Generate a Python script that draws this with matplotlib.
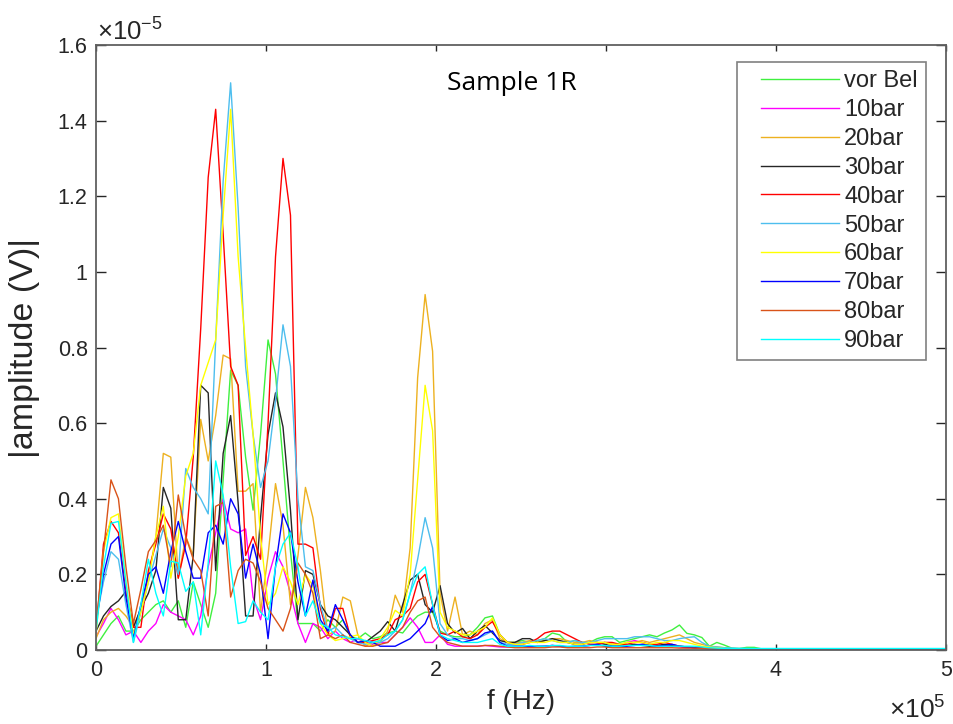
import numpy as np
import matplotlib
matplotlib.use("Agg")
import matplotlib.pyplot as plt
from matplotlib.legend_handler import HandlerLine2D

plt.rcParams['font.family'] = ['Liberation Sans', 'DejaVu Sans']
plt.rcParams['mathtext.fontset'] = 'custom'
plt.rcParams['mathtext.rm'] = 'Liberation Sans'
plt.rcParams['mathtext.it'] = 'Liberation Sans'

# frequency resolution of the spectra (Hz)
df_hz = 4400.0
n_points = 115

labels = ["vor Bel", "10bar", "20bar", "30bar", "40bar", "50bar", "60bar", "70bar", "80bar", "90bar"]
colors = ["#3ff03f", "#ff00ff", "#edb120", "#262626", "#ff0000", "#4dbeee", "#ffff00", "#0000ff", "#d95319", "#00ffff"]

# amplitudes in units of 1e-5 V
amp_vorbel = [0.01, 0.04, 0.07, 0.09, 0.05, 0.05, 0.08, 0.10, 0.12, 0.13,
              0.10, 0.13, 0.06, 0.18, 0.12, 0.06, 0.15, 0.45, 0.74, 0.70,
              0.51, 0.37, 0.57, 0.82, 0.73, 0.50, 0.26, 0.07, 0.07, 0.07,
              0.05, 0.08, 0.06, 0.08, 0.035, 0.03, 0.045, 0.03, 0.035, 0.045,
              0.05, 0.045, 0.07, 0.09, 0.10, 0.10, 0.05, 0.04, 0.035, 0.035,
              0.04, 0.06, 0.085, 0.09, 0.04, 0.02, 0.02, 0.025, 0.02, 0.025,
              0.03, 0.045, 0.04, 0.02, 0.025, 0.02, 0.02, 0.03, 0.035, 0.035,
              0.02, 0.025, 0.03, 0.035, 0.04, 0.035, 0.045, 0.053, 0.066, 0.044,
              0.04, 0.033, 0.01, 0.02, 0.013, 0.005, 0.004, 0.007, 0.007, 0.003,
              0.002, 0.002, 0.002, 0.001, 0.001, 0.001, 0.001, 0.001, 0.001, 0.001,
              0.001, 0.001, 0.001, 0.001, 0.001, 0.001, 0.001, 0.001, 0.001, 0.001,
              0.001, 0.001, 0.001, 0.001, 0.001]
amp_10bar = [0.035, 0.07, 0.11, 0.08, 0.04, 0.05, 0.02, 0.05, 0.07, 0.12,
             0.10, 0.09, 0.08, 0.04, 0.09, 0.22, 0.31, 0.40, 0.32, 0.31,
             0.32, 0.14, 0.08, 0.19, 0.26, 0.22, 0.15, 0.07, 0.02, 0.07,
             0.06, 0.03, 0.05, 0.03, 0.02, 0.03, 0.02, 0.015, 0.02, 0.02,
             0.04, 0.06, 0.085, 0.06, 0.02, 0.02, 0.04, 0.015, 0.01, 0.01,
             0.01, 0.01, 0.012, 0.01, 0.008, 0.008, 0.01, 0.01, 0.008, 0.008,
             0.01, 0.012, 0.01, 0.008, 0.008, 0.01, 0.012, 0.015, 0.02, 0.015,
             0.012, 0.02, 0.025, 0.02, 0.015, 0.01, 0.012, 0.01, 0.008, 0.006,
             0.006, 0.005, 0.004, 0.003, 0.003, 0.002, 0.002, 0.002, 0.001, 0.001,
             0.001, 0.001, 0.001, 0.001, 0.001, 0.001, 0.001, 0.001, 0.001, 0.001,
             0.001, 0.001, 0.001, 0.001, 0.001, 0.001, 0.001, 0.001, 0.001, 0.001,
             0.001, 0.001, 0.001, 0.001, 0.001]
amp_20bar = [0.03, 0.08, 0.10, 0.11, 0.09, 0.06, 0.11, 0.19, 0.30, 0.52,
             0.51, 0.19, 0.30, 0.25, 0.61, 0.50, 0.62, 0.78, 0.77, 0.42,
             0.42, 0.44, 0.10, 0.25, 0.44, 0.33, 0.12, 0.25, 0.43, 0.35,
             0.21, 0.04, 0.05, 0.14, 0.13, 0.04, 0.01, 0.02, 0.02, 0.05,
             0.145, 0.10, 0.27, 0.72, 0.94, 0.79, 0.15, 0.05, 0.14, 0.04,
             0.05, 0.04, 0.07, 0.08, 0.03, 0.02, 0.02, 0.02, 0.025, 0.02,
             0.025, 0.03, 0.03, 0.025, 0.02, 0.02, 0.025, 0.02, 0.02, 0.015,
             0.015, 0.02, 0.02, 0.025, 0.02, 0.025, 0.03, 0.035, 0.04, 0.03,
             0.02, 0.015, 0.01, 0.008, 0.006, 0.004, 0.003, 0.002, 0.002, 0.001,
             0.001, 0.001, 0.001, 0.001, 0.001, 0.001, 0.001, 0.001, 0.001, 0.001,
             0.001, 0.001, 0.001, 0.001, 0.001, 0.001, 0.001, 0.001, 0.001, 0.001,
             0.001, 0.001, 0.001, 0.001, 0.001]
amp_30bar = [0.05, 0.09, 0.115, 0.13, 0.155, 0.06, 0.11, 0.15, 0.21, 0.43,
             0.375, 0.08, 0.08, 0.25, 0.70, 0.68, 0.21, 0.52, 0.62, 0.39,
             0.09, 0.09, 0.35, 0.57, 0.68, 0.59, 0.37, 0.08, 0.21, 0.20,
             0.12, 0.09, 0.08, 0.06, 0.04, 0.02, 0.02, 0.035, 0.05, 0.075,
             0.05, 0.12, 0.185, 0.20, 0.12, 0.10, 0.17, 0.07, 0.045, 0.057,
             0.03, 0.05, 0.065, 0.045, 0.025, 0.02, 0.02, 0.03, 0.03, 0.02,
             0.025, 0.03, 0.025, 0.02, 0.015, 0.015, 0.02, 0.02, 0.015, 0.01,
             0.01, 0.012, 0.015, 0.012, 0.01, 0.012, 0.015, 0.012, 0.01, 0.008,
             0.006, 0.005, 0.004, 0.003, 0.002, 0.002, 0.002, 0.001, 0.001, 0.001,
             0.001, 0.001, 0.001, 0.001, 0.001, 0.001, 0.001, 0.001, 0.001, 0.001,
             0.001, 0.001, 0.001, 0.001, 0.001, 0.001, 0.001, 0.001, 0.001, 0.001,
             0.001, 0.001, 0.001, 0.001, 0.001]
amp_40bar = [0.05, 0.28, 0.34, 0.31, 0.16, 0.06, 0.06, 0.21, 0.28, 0.36,
             0.32, 0.19, 0.28, 0.51, 0.85, 1.25, 1.43, 1.10, 0.75, 0.70,
             0.25, 0.30, 0.24, 0.60, 1.04, 1.30, 1.15, 0.28, 0.28, 0.27,
             0.11, 0.04, 0.11, 0.11, 0.035, 0.02, 0.02, 0.025, 0.03, 0.04,
             0.08, 0.09, 0.11, 0.18, 0.20, 0.12, 0.045, 0.04, 0.05, 0.035,
             0.03, 0.04, 0.06, 0.075, 0.04, 0.02, 0.015, 0.015, 0.02, 0.03,
             0.045, 0.05, 0.05, 0.04, 0.03, 0.02, 0.015, 0.015, 0.02, 0.02,
             0.015, 0.015, 0.02, 0.02, 0.015, 0.015, 0.02, 0.015, 0.01, 0.008,
             0.006, 0.005, 0.004, 0.003, 0.002, 0.002, 0.002, 0.001, 0.001, 0.001,
             0.001, 0.001, 0.001, 0.001, 0.001, 0.001, 0.001, 0.001, 0.001, 0.001,
             0.001, 0.001, 0.001, 0.001, 0.001, 0.001, 0.001, 0.001, 0.001, 0.001,
             0.001, 0.001, 0.001, 0.001, 0.001]
amp_50bar = [0.08, 0.18, 0.26, 0.24, 0.12, 0.02, 0.10, 0.18, 0.25, 0.32,
             0.27, 0.20, 0.48, 0.43, 0.40, 0.36, 0.82, 1.24, 1.50, 1.17,
             0.75, 0.57, 0.43, 0.50, 0.66, 0.86, 0.75, 0.40, 0.22, 0.21,
             0.12, 0.05, 0.06, 0.04, 0.03, 0.02, 0.015, 0.02, 0.02, 0.03,
             0.05, 0.08, 0.15, 0.24, 0.35, 0.27, 0.07, 0.04, 0.03, 0.03,
             0.025, 0.03, 0.04, 0.05, 0.02, 0.015, 0.015, 0.02, 0.02, 0.025,
             0.03, 0.025, 0.02, 0.02, 0.025, 0.02, 0.02, 0.025, 0.03, 0.03,
             0.03, 0.03, 0.035, 0.035, 0.035, 0.03, 0.025, 0.025, 0.03, 0.033,
             0.035, 0.02, 0.01, 0.008, 0.006, 0.005, 0.004, 0.004, 0.003, 0.003,
             0.003, 0.003, 0.003, 0.003, 0.003, 0.003, 0.003, 0.003, 0.003, 0.003,
             0.003, 0.003, 0.003, 0.003, 0.003, 0.003, 0.003, 0.003, 0.003, 0.003,
             0.003, 0.003, 0.003, 0.003, 0.003]
amp_60bar = [0.04, 0.26, 0.35, 0.36, 0.18, 0.04, 0.10, 0.18, 0.30, 0.38,
             0.19, 0.30, 0.46, 0.52, 0.70, 0.76, 0.82, 1.15, 1.43, 1.04,
             0.80, 0.57, 0.30, 0.12, 0.15, 0.22, 0.18, 0.12, 0.20, 0.17,
             0.07, 0.04, 0.025, 0.03, 0.035, 0.04, 0.02, 0.01, 0.03, 0.06,
             0.105, 0.09, 0.20, 0.45, 0.70, 0.58, 0.10, 0.06, 0.05, 0.04,
             0.04, 0.05, 0.06, 0.085, 0.04, 0.02, 0.015, 0.015, 0.02, 0.02,
             0.02, 0.025, 0.02, 0.02, 0.015, 0.015, 0.02, 0.02, 0.02, 0.015,
             0.015, 0.02, 0.02, 0.02, 0.015, 0.02, 0.02, 0.025, 0.025, 0.02,
             0.015, 0.01, 0.008, 0.006, 0.004, 0.003, 0.002, 0.002, 0.001, 0.001,
             0.001, 0.001, 0.001, 0.001, 0.001, 0.001, 0.001, 0.001, 0.001, 0.001,
             0.001, 0.001, 0.001, 0.001, 0.001, 0.001, 0.001, 0.001, 0.001, 0.001,
             0.001, 0.001, 0.001, 0.001, 0.001]
amp_70bar = [0.07, 0.20, 0.28, 0.30, 0.14, 0.03, 0.12, 0.20, 0.22, 0.15,
             0.26, 0.34, 0.26, 0.19, 0.19, 0.31, 0.33, 0.28, 0.40, 0.36,
             0.19, 0.28, 0.20, 0.03, 0.22, 0.36, 0.31, 0.18, 0.09, 0.185,
             0.08, 0.05, 0.12, 0.08, 0.04, 0.02, 0.025, 0.02, 0.01, 0.01,
             0.01, 0.02, 0.03, 0.05, 0.07, 0.115, 0.04, 0.025, 0.03, 0.02,
             0.025, 0.03, 0.045, 0.05, 0.02, 0.01, 0.01, 0.01, 0.008, 0.01,
             0.01, 0.012, 0.01, 0.008, 0.01, 0.01, 0.012, 0.015, 0.01, 0.01,
             0.008, 0.01, 0.012, 0.015, 0.012, 0.01, 0.012, 0.015, 0.01, 0.008,
             0.006, 0.004, 0.003, 0.002, 0.002, 0.001, 0.001, 0.001, 0.001, 0.001,
             0.001, 0.001, 0.001, 0.001, 0.001, 0.001, 0.001, 0.001, 0.001, 0.001,
             0.001, 0.001, 0.001, 0.001, 0.001, 0.001, 0.001, 0.001, 0.001, 0.001,
             0.001, 0.001, 0.001, 0.001, 0.001]
amp_80bar = [0.06, 0.26, 0.45, 0.40, 0.22, 0.07, 0.16, 0.26, 0.29, 0.33,
             0.22, 0.41, 0.30, 0.24, 0.21, 0.09, 0.38, 0.39, 0.14, 0.21,
             0.24, 0.23, 0.18, 0.11, 0.08, 0.05, 0.11, 0.23, 0.20, 0.15,
             0.03, 0.04, 0.03, 0.04, 0.02, 0.015, 0.01, 0.01, 0.015, 0.02,
             0.04, 0.06, 0.10, 0.13, 0.14, 0.06, 0.035, 0.02, 0.015, 0.01,
             0.01, 0.01, 0.012, 0.012, 0.01, 0.008, 0.006, 0.006, 0.006, 0.006,
             0.006, 0.008, 0.008, 0.006, 0.006, 0.006, 0.006, 0.008, 0.008, 0.006,
             0.006, 0.006, 0.006, 0.006, 0.006, 0.006, 0.006, 0.006, 0.005, 0.005,
             0.005, 0.004, 0.004, 0.003, 0.003, 0.003, 0.003, 0.003, 0.003, 0.003,
             0.003, 0.003, 0.003, 0.003, 0.003, 0.003, 0.003, 0.003, 0.003, 0.003,
             0.003, 0.003, 0.003, 0.003, 0.003, 0.003, 0.003, 0.003, 0.003, 0.003,
             0.003, 0.003, 0.003, 0.003, 0.003]
amp_90bar = [0.05, 0.22, 0.335, 0.34, 0.18, 0.02, 0.12, 0.24, 0.15, 0.09,
             0.235, 0.23, 0.155, 0.18, 0.04, 0.23, 0.50, 0.41, 0.22, 0.07,
             0.075, 0.13, 0.10, 0.08, 0.22, 0.28, 0.31, 0.22, 0.09, 0.13,
             0.07, 0.06, 0.04, 0.035, 0.03, 0.03, 0.025, 0.02, 0.025, 0.04,
             0.05, 0.08, 0.15, 0.20, 0.22, 0.12, 0.04, 0.03, 0.025, 0.02,
             0.02, 0.02, 0.025, 0.03, 0.015, 0.01, 0.01, 0.01, 0.012, 0.01,
             0.01, 0.012, 0.012, 0.01, 0.01, 0.01, 0.012, 0.012, 0.012, 0.01,
             0.01, 0.012, 0.012, 0.012, 0.012, 0.01, 0.01, 0.01, 0.01, 0.01,
             0.01, 0.008, 0.006, 0.005, 0.004, 0.004, 0.004, 0.004, 0.004, 0.004,
             0.004, 0.004, 0.004, 0.004, 0.004, 0.004, 0.004, 0.004, 0.004, 0.004,
             0.004, 0.004, 0.004, 0.004, 0.004, 0.004, 0.004, 0.004, 0.004, 0.004,
             0.004, 0.004, 0.004, 0.004, 0.004]

series = [amp_vorbel, amp_10bar, amp_20bar, amp_30bar, amp_40bar,
          amp_50bar, amp_60bar, amp_70bar, amp_80bar, amp_90bar]

freq_hz = np.arange(n_points) * df_hz


class IndentedLine(HandlerLine2D):
    """Legend line that starts a bit inside its handle box (MATLAB-like look)."""
    def __init__(self, indent_px=16, **kw):
        super().__init__(**kw)
        self.indent_px = indent_px

    def create_artists(self, legend, orig_handle, xdescent, ydescent, width,
                       height, fontsize, trans):
        off = self.indent_px * 72.0 / 100.0
        return super().create_artists(legend, orig_handle, xdescent - off, ydescent,
                                      width - off, height, fontsize, trans)


W, H = 954, 724
fig = plt.figure(figsize=(W / 100, H / 100), dpi=100)
ax = fig.add_axes([96 / W, 1 - 650 / H, (946 - 96) / W, (650 - 45) / H])

lines = []
for vals, c, lab in zip(series, colors, labels):
    ln, = ax.plot(freq_hz / 1e5, np.asarray(vals), color=c, lw=1.0, label=lab)
    lines.append(ln)

ax.set_xlim(0, 5)
ax.set_ylim(0, 1.6)
ax.set_xticks([0, 1, 2, 3, 4, 5])
ax.set_yticks([0, 0.2, 0.4, 0.6, 0.8, 1, 1.2, 1.4, 1.6])
ax.set_xticklabels(["0", "1", "2", "3", "4", "5"])
ax.set_yticklabels(["0", "0.2", "0.4", "0.6", "0.8", "1", "1.2", "1.4", "1.6"])

axc = "#262626"
for s in ax.spines.values():
    s.set_color("#606060")
    s.set_linewidth(1.3)
ax.tick_params(axis='both', direction='in', colors=axc, labelsize=15.5,
               top=True, right=True, width=1.0)
ax.tick_params(axis='y', length=7, pad=6)
ax.tick_params(axis='x', length=4.5, pad=7)

ax.set_xlabel("f (Hz)", fontsize=20, color=axc, labelpad=6)
ax.set_ylabel("|amplitude (V)|", fontsize=24.5, color=axc)
ax.yaxis.set_label_coords(-0.066, 0.5)

fig.text(97 / W, 1 - 41 / H, r"$\times10^{-5}$", fontsize=18.5, color=axc, ha='left', va='baseline')
fig.text(946 / W, 1 - 719 / H, r"$\times10^{5}$", fontsize=19, color=axc, ha='right', va='baseline')

fig.text(512 / W, 1 - 84 / H, "Sample 1R", fontsize=19, family=['Open Sans', 'DejaVu Sans'],
         ha='center', va='center', color='black')

leg = ax.legend(handles=lines, loc='upper right', bbox_to_anchor=(926 / W, 1 - 62 / H),
                bbox_transform=fig.transFigure, borderaxespad=0, fontsize=17,
                handlelength=4.0, labelspacing=0.29, handletextpad=0.2,
                borderpad=0.35, fancybox=False, frameon=True,
                handler_map={ln: IndentedLine(indent_px=16) for ln in lines})
leg.get_frame().set_edgecolor("#606060")
leg.get_frame().set_linewidth(1.2)
for t in leg.get_texts():
    t.set_color(axc)

fig.savefig("out.png", dpi=100, facecolor='white')
